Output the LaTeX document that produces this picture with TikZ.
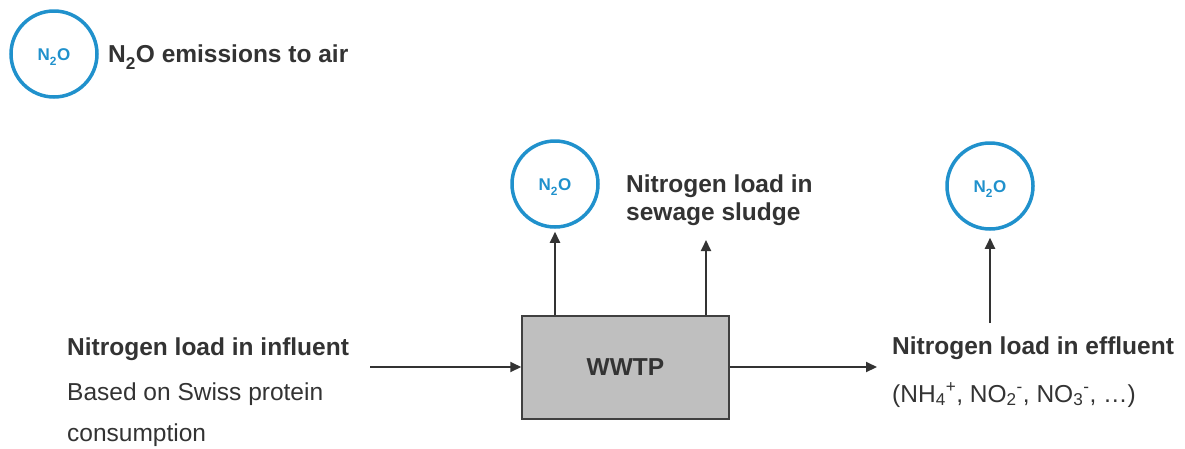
\documentclass[tikz,border=0pt]{standalone}
\usepackage{fontspec}
\setmainfont{Liberation Sans}
\usetikzlibrary{arrows.meta}
\definecolor{nblue}{RGB}{32,145,204}
\definecolor{ink}{RGB}{51,51,51}
\definecolor{boxgray}{RGB}{191,191,191}
\definecolor{boxline}{RGB}{64,64,64}

% chemical formula with a slightly lowered subscript
\newcommand{\lowsub}[1]{\raisebox{-0.28ex}{\textsubscript{#1}}}

\begin{document}
\begin{tikzpicture}[x=1pt,y=-1pt,
  gas/.style={circle, draw=nblue, line width=3.5pt, minimum size=86pt, inner sep=0pt,
    text height=12pt, text depth=0pt,
    text=nblue, font=\fontsize{17}{20}\selectfont\bfseries},
  heading/.style={anchor=base west, inner sep=0pt, text=ink,
    font=\fontsize{24.5}{28}\selectfont\bfseries},
  desc/.style={anchor=base west, inner sep=0pt, text=ink,
    font=\fontsize{24.5}{28}\selectfont},
  flow/.style={draw=ink, line width=2pt, -{Triangle[length=11pt,width=10pt]}},
  plant/.style={draw=boxline, line width=1.5pt, fill=boxgray,
    minimum width=207pt, minimum height=103pt, text=ink,
    font=\fontsize{24.5}{28}\selectfont\bfseries}
]
\useasboundingbox (0,0) rectangle (1185,448);

% legend
\node[gas] (leg) at (54,54) {N\lowsub{2}O};
\node[heading] (legtext) at (108,62) {N\lowsub{2}O emissions to air};

% treatment plant
\node[plant] (wwtp) at (625.5,367.5) {WWTP};

% emission circles
\node[gas] (gasplant) at (555,184) {N\lowsub{2}O};
\node[gas] (gaseff) at (990,186) {N\lowsub{2}O};

% texts
\node[heading] (inf1) at (67,355) {Nitrogen load in influent};
\node[desc] (inf2) at (67,400) {Based on Swiss protein};
\node[desc] (inf3) at (67,441) {consumption};

\node[heading] (sl1) at (626,192) {Nitrogen load in};
\node[heading] (sl2) at (626,220) {sewage sludge};

\node[heading] (eff1) at (892,354) {Nitrogen load in effluent};
\node[desc] (eff2) at (892,402) {(NH\textsubscript{4}\textsuperscript{+}, NO\textsubscript{2}\textsuperscript{-}, NO\textsubscript{3}\textsuperscript{-}, …)};

% free ends of connectors
\coordinate (inStart) at (370,367);
\coordinate (outEnd) at (877,367);
\coordinate (sludgeEnd) at (706,240);
\coordinate (effStart) at (990,323);

% connectors
\draw[flow] (inStart) -- (inStart -| wwtp.west);
\draw[flow] (wwtp.east |- outEnd) -- (outEnd);
\draw[flow, shorten >=3pt] (wwtp.north -| gasplant) -- (gasplant.south);
\draw[flow] (wwtp.north -| sludgeEnd) -- (sludgeEnd);
\draw[flow, shorten >=7pt] (effStart) -- (gaseff.south);
\end{tikzpicture}
\end{document}
